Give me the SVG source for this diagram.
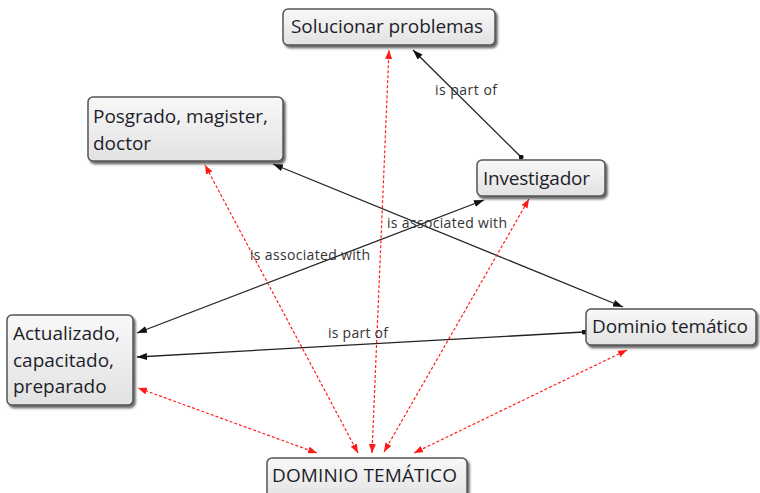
<svg xmlns="http://www.w3.org/2000/svg" width="760" height="493" viewBox="0 0 760 493">
<defs>
<linearGradient id="g" x1="0" y1="0" x2="0" y2="1">
<stop offset="0" stop-color="#f8f8f8"/>
<stop offset="1" stop-color="#e2e2e2"/>
</linearGradient>
<filter id="sh" x="-10%" y="-20%" width="130%" height="150%">
<feDropShadow dx="2" dy="2.5" stdDeviation="1.2" flood-color="#333" flood-opacity="0.75"/>
</filter>
<marker id="ab" viewBox="0 0 10 7" refX="10" refY="3.5" markerWidth="10" markerHeight="7" markerUnits="userSpaceOnUse" orient="auto-start-reverse">
<path d="M0,0 L10,3.5 L0,7 z" fill="#111"/>
</marker>
<marker id="dot" viewBox="0 0 6 6" refX="3" refY="3" markerWidth="5" markerHeight="5" markerUnits="userSpaceOnUse">
<circle cx="3" cy="3" r="3" fill="#111"/>
</marker>
<marker id="ar" viewBox="0 0 9 7" refX="9" refY="3.5" markerWidth="9" markerHeight="7" markerUnits="userSpaceOnUse" orient="auto-start-reverse">
<path d="M0,0 L9,3.5 L0,7 z" fill="#ff1a1a"/>
</marker>
</defs>
<style>
.box{fill:url(#g);stroke:#555;stroke-width:1.5;filter:url(#sh)}
.t{font-family:"Open Sans","Noto Sans",sans-serif;font-size:19px;fill:#1e1e2a}
.lbl{font-family:"Open Sans","Noto Sans",sans-serif;font-size:14px;fill:#333}
.bl{stroke:#222;stroke-width:1.3;fill:none}
.rd{stroke:#ff2020;stroke-width:1.2;stroke-dasharray:3 2;fill:none}
</style>
<rect width="760" height="493" fill="#fff"/>
<g id="connectors">
<line class="bl" x1="521" y1="157" x2="413" y2="50" marker-start="url(#dot)" marker-end="url(#ab)"/>
<line class="bl" x1="273" y1="164" x2="623" y2="307" marker-start="url(#ab)" marker-end="url(#ab)"/>
<line class="bl" x1="137" y1="333" x2="484" y2="200" marker-start="url(#ab)" marker-end="url(#ab)"/>
<line class="bl" x1="584" y1="332" x2="137" y2="357" marker-start="url(#dot)" marker-end="url(#ab)"/>
<line class="rd" x1="317" y1="453" x2="138" y2="388" marker-start="url(#ar)" marker-end="url(#ar)"/>
<line class="rd" x1="358" y1="453" x2="205" y2="165" marker-start="url(#ar)" marker-end="url(#ar)"/>
<line class="rd" x1="372" y1="453" x2="389" y2="50" marker-start="url(#ar)" marker-end="url(#ar)"/>
<line class="rd" x1="384" y1="452" x2="529" y2="199" marker-start="url(#ar)" marker-end="url(#ar)"/>
<line class="rd" x1="414" y1="453" x2="627" y2="350" marker-start="url(#ar)" marker-end="url(#ar)"/>
<text class="lbl" x="435" y="95" textLength="62">is part of</text>
<text class="lbl" x="387" y="228" textLength="120">is associated with</text>
<text class="lbl" x="250" y="260" textLength="120">is associated with</text>
<text class="lbl" x="328" y="338" textLength="60">is part of</text>
</g>
<g id="n-solucionar">
<rect class="box" x="283" y="9" width="212" height="36" rx="5"/>
<text class="t" x="291" y="33" textLength="192">Solucionar problemas</text>
</g>
<g id="n-posgrado">
<rect class="box" x="88" y="97" width="195" height="64" rx="5"/>
<text class="t" x="93" y="123" textLength="175">Posgrado, magister,</text>
<text class="t" x="93" y="150">doctor</text>
</g>
<g id="n-investigador">
<rect class="box" x="477" y="160" width="128" height="36" rx="5"/>
<text class="t" x="483" y="185" textLength="107">Investigador</text>
</g>
<g id="n-actualizado">
<rect class="box" x="7" y="315" width="126" height="90" rx="5"/>
<text class="t" x="13" y="340" textLength="107">Actualizado,</text>
<text class="t" x="13" y="367">capacitado,</text>
<text class="t" x="13" y="393">preparado</text>
</g>
<g id="n-dominio">
<rect class="box" x="586" y="309" width="170" height="36" rx="5"/>
<text class="t" x="592" y="333" textLength="156">Dominio temático</text>
</g>
<g id="n-dominio-upper">
<rect class="box" x="267" y="458" width="200" height="42" rx="5"/>
<text class="t" x="272" y="482" textLength="185">DOMINIO TEMÁTICO</text>
</g>
</svg>
